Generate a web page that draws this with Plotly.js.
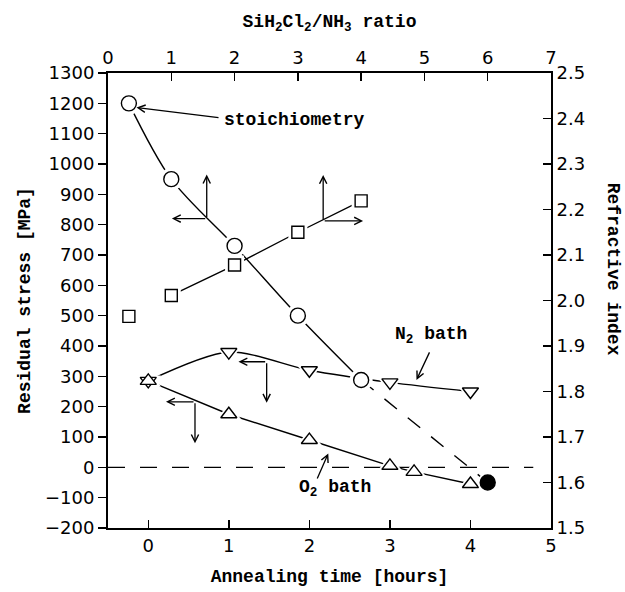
<!DOCTYPE html>
<html>
<head>
<meta charset="utf-8">
<script src="https://cdn.plot.ly/plotly-3.0.1.min.js"></script>
<style>html,body{margin:0;padding:0;background:#fff;}#chart{width:625px;height:592px;}</style>
</head>
<body>
<div id="chart"></div>
<script>
// ---- data ----
const ratio = [0.33, 1, 2, 3, 4];                 // SiH2Cl2/NH3 ratio (top axis)
const stoichStress = [1200, 950, 730, 500, 288];  // residual stress [MPa], circles
const extrapRatio = [4, 6];
const extrapStress = [288, -50];
const filledRatio = [6];
const filledStress = [-50];
const squareRatio = [0.33, 1, 2, 3, 4];
const squareIndex = [1.965, 2.011, 2.078, 2.150, 2.219]; // refractive index
const timeN2 = [0, 1, 2, 3, 4];
const stressN2 = [285, 380, 320, 280, 250];
const timeO2 = [0, 1, 2, 3, 3.3, 4];
const stressO2 = [285, 175, 90, 5, -15, -55];
const timeTicks = [0, 1, 2, 3, 4, 5];
const ratioTicks = [0, 1, 2, 3, 4, 5, 6, 7];

const BLACK = '#000';
const MONO = 'Liberation Mono, Courier New, monospace';
const SANS = 'DejaVu Sans, sans-serif';

function lineTrace(x, y, xa, ya, opts) {
  return Object.assign({x: x, y: y, xaxis: xa, yaxis: ya, mode: 'lines',
    line: {color: BLACK, width: 1.4}, hoverinfo: 'skip', showlegend: false}, opts || {});
}
function haloTrace(x, y, xa, ya, sym, size) {
  return {x: x, y: y, xaxis: xa, yaxis: ya, mode: 'markers', hoverinfo: 'skip', showlegend: false,
    marker: {symbol: sym, size: size, color: '#fff', line: {width: 0}}};
}
function markTrace(x, y, xa, ya, sym, size, fill) {
  return {x: x, y: y, xaxis: xa, yaxis: ya, mode: 'markers', hoverinfo: 'skip', showlegend: false,
    marker: {symbol: sym, size: size, color: fill || '#fff', line: {width: 1.4, color: BLACK}}};
}

const traces = [
  // lines
  lineTrace(ratio, stoichStress, 'x2', 'y', {line: {color: BLACK, width: 1.4, shape: 'spline', smoothing: 0.9}}),
  lineTrace(extrapRatio, extrapStress, 'x2', 'y', {line: {color: BLACK, width: 1.4, dash: '16px,14px'}}),
  lineTrace(squareRatio.slice(1), squareIndex.slice(1), 'x2', 'y2'),
  lineTrace(timeN2, stressN2, 'x', 'y', {line: {color: BLACK, width: 1.4, shape: 'spline', smoothing: 0.8}}),
  lineTrace(timeO2, stressO2, 'x', 'y'),
  // halos (gap around markers)
  haloTrace(ratio, stoichStress, 'x2', 'y', 'circle', 23),
  haloTrace(squareRatio, squareIndex, 'x2', 'y2', 'square', 19),
  haloTrace(timeN2, stressN2, 'x', 'y', 'triangle-down', 22),
  haloTrace(timeO2, stressO2, 'x', 'y', 'triangle-up', 22),
  haloTrace(filledRatio, filledStress, 'x2', 'y', 'circle', 20),
  // markers
  markTrace(ratio, stoichStress, 'x2', 'y', 'circle', 15),
  markTrace(squareRatio, squareIndex, 'x2', 'y2', 'square', 12),
  markTrace(timeN2, stressN2, 'x', 'y', 'triangle-down', 14),
  markTrace(timeO2, stressO2, 'x', 'y', 'triangle-up', 14),
  markTrace(filledRatio, filledStress, 'x2', 'y', 'circle', 15, BLACK)
];

function arrow(xref, yref, hx, hy, tx, ty) {
  return {xref: xref, yref: yref, axref: xref, ayref: yref, x: hx, y: hy, ax: tx, ay: ty,
    text: '', showarrow: true, arrowhead: 5, arrowsize: 1.1, arrowwidth: 1.3, arrowcolor: BLACK};
}
function label(xref, yref, x, y, text, xanchor) {
  return {xref: xref, yref: yref, x: x, y: y, text: text, showarrow: false, xanchor: xanchor || 'center',
    yanchor: 'middle', font: {family: MONO, size: 18, color: BLACK, weight: 'bold'}};
}

const annotations = [
  // stoichiometry label + arrow
  label('x2', 'y', 1.80, 1145, '<b>stoichiometry</b>', 'left'),
  arrow('x2', 'y', 0.45, 1186, 1.77, 1152),
  // axis indicator arrows for circles (left/top)
  arrow('x2', 'y', 1.56, 965, 1.56, 820),
  arrow('x2', 'y', 1.01, 820, 1.56, 820),
  // axis indicator arrows for squares (top/right)
  arrow('x2', 'y2', 3.40, 2.276, 3.40, 2.175),
  arrow('x2', 'y2', 4.03, 2.175, 3.40, 2.175),
  // N2 arrows (left/bottom)
  arrow('x', 'y', 1.12, 348, 1.47, 348),
  arrow('x', 'y', 1.47, 213, 1.47, 348),
  // O2 arrows (left/bottom)
  arrow('x', 'y', 0.22, 216, 0.58, 216),
  arrow('x', 'y', 0.58, 79, 0.58, 216),
  // N2 bath label
  label('x', 'y', 3.51, 436, '<b>N<sub>2</sub> bath</b>'),
  arrow('x', 'y', 3.33, 288, 3.50, 384),
  // O2 bath label
  label('x', 'y', 2.32, -70, '<b>O<sub>2</sub> bath</b>'),
  arrow('x', 'y', 2.235, 46, 2.09, -42),
  // right axis title (reads top to bottom)
  {xref: 'paper', yref: 'paper', x: 1.14, y: 0.57, text: '<b>Refractive index</b>', showarrow: false,
   textangle: 90, xanchor: 'center', yanchor: 'middle', font: {family: MONO, size: 18, color: BLACK}}
];

const axisCommon = {showgrid: false, zeroline: false, showline: true, linecolor: BLACK, linewidth: 2,
  ticks: 'inside', ticklen: 8, tickwidth: 1.5, tickcolor: BLACK,
  tickfont: {family: SANS, size: 18, color: BLACK}};

const layout = {
  width: 625, height: 592,
  margin: {l: 108, r: 74, t: 73, b: 64},
  paper_bgcolor: '#fff', plot_bgcolor: '#fff',
  showlegend: false,
  xaxis: Object.assign({}, axisCommon, {range: [-0.5, 5], tickvals: timeTicks, side: 'bottom', anchor: 'y',
    title: {text: '<b>Annealing time [hours]</b>', font: {family: MONO, size: 18, color: BLACK}, standoff: 15}}),
  xaxis2: Object.assign({}, axisCommon, {range: [0, 7], tickvals: ratioTicks, side: 'top', overlaying: 'x', anchor: 'y',
    title: {text: '<b>SiH<sub>2</sub>Cl<sub>2</sub>/NH<sub>3</sub> ratio</b>', font: {family: MONO, size: 18, color: BLACK}, standoff: 14}}),
  yaxis: Object.assign({}, axisCommon, {range: [-200, 1300], dtick: 100, tick0: 0, ticks: 'outside', side: 'left', anchor: 'x',
    title: {text: '<b>Residual stress [MPa]</b>', font: {family: MONO, size: 18, color: BLACK}, standoff: 10}}),
  yaxis2: Object.assign({}, axisCommon, {range: [1.5, 2.5], dtick: 0.1, tick0: 1.5, tickformat: '.1f', side: 'right', overlaying: 'y', anchor: 'x'}),
  shapes: [
    {type: 'line', xref: 'paper', yref: 'y', x0: 0, x1: 0.96, y0: 0, y1: 0,
     line: {color: BLACK, width: 1.4, dash: '17px,15px'}, layer: 'below'}
  ],
  annotations: annotations
};

Plotly.newPlot('chart', traces, layout, {staticPlot: true, displayModeBar: false});
</script>
</body>
</html>
